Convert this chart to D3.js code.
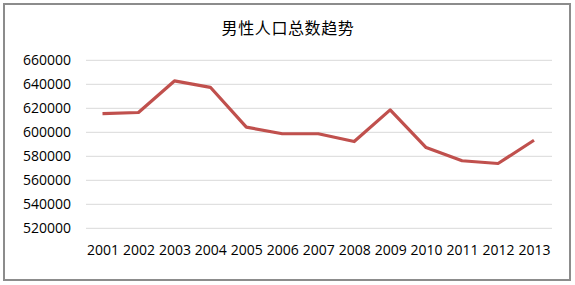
<!DOCTYPE html>
<html>
<head>
<meta charset="utf-8">
<script src="https://cdn.jsdelivr.net/npm/d3@7"></script>
<style>
  html, body { margin: 0; padding: 0; background: #fff; }
  svg { display: block; }
</style>
</head>
<body>
<div id="chart"></div>
<script>
const years = ["2001","2002","2003","2004","2005","2006","2007","2008","2009","2010","2011","2012","2013"];
const malePop = [615500, 616500, 642800, 637500, 604300, 598800, 598800, 592300, 618700, 587300, 576300, 574000, 593400];
const yTicks = [520000, 540000, 560000, 580000, 600000, 620000, 640000, 660000];
const title = "男性人口总数趋势";

const width = 575, height = 285;

const svg = d3.select("#chart")
  .append("svg")
  .attr("width", width)
  .attr("height", height);

// frame
svg.append("rect")
  .attr("x", 4).attr("y", 4)
  .attr("width", 566).attr("height", 276)
  .attr("fill", "#fff")
  .attr("stroke", "#8c8c8c")
  .attr("stroke-width", 2);

const x = d3.scalePoint()
  .domain(years)
  .range([102.5, 534]);

const y = d3.scaleLinear()
  .domain([520000, 660000])
  .range([228.3, 60.3]);

// gridlines
svg.append("g")
  .selectAll("line")
  .data(yTicks)
  .join("line")
  .attr("x1", 86).attr("x2", 552)
  .attr("y1", d => y(d)).attr("y2", d => y(d))
  .attr("stroke", "#d9d9d9")
  .attr("stroke-width", 1);

// y axis labels
const yAxis = d3.axisLeft(y).tickValues(yTicks).tickFormat(d3.format("d")).tickSize(0).tickPadding(0);
svg.append("g")
  .attr("transform", "translate(71,0)")
  .call(yAxis)
  .call(g => g.select(".domain").remove())
  .selectAll("text")
  .attr("font-family", "'Open Sans', sans-serif")
  .attr("font-size", 14)
  .attr("fill", "#000");

// x axis labels
const xAxis = d3.axisBottom(x).tickSize(0).tickPadding(0);
svg.append("g")
  .attr("transform", "translate(0,245.5)")
  .call(xAxis)
  .call(g => g.select(".domain").remove())
  .selectAll("text")
  .attr("font-family", "'Open Sans', sans-serif")
  .attr("font-size", 14)
  .attr("fill", "#000");

// line
const line = d3.line()
  .x((d, i) => x(years[i]))
  .y(d => y(d));

svg.append("path")
  .datum(malePop)
  .attr("fill", "none")
  .attr("stroke", "#c0504d")
  .attr("stroke-width", 3.2)
  .attr("stroke-linejoin", "round")
  .attr("d", line);

// title
svg.append("text")
  .attr("x", 288)
  .attr("y", 34)
  .attr("text-anchor", "middle")
  .attr("font-family", "'Noto Sans CJK SC', sans-serif")
  .attr("font-size", 16)
  .attr("letter-spacing", 0.6)
  .attr("fill", "#000")
  .text(title);
</script>
</body>
</html>
